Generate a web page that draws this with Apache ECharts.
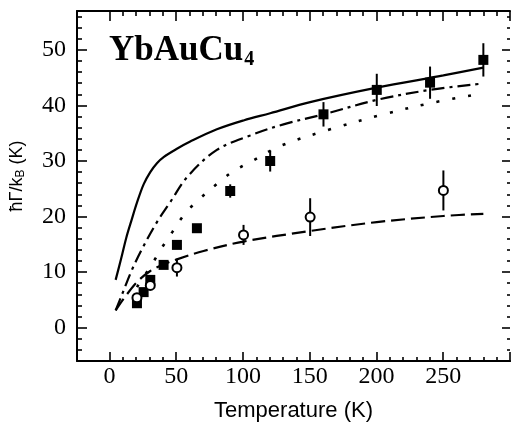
<!DOCTYPE html>
<html><head><meta charset="utf-8">
<script src="https://cdn.jsdelivr.net/npm/echarts@6/dist/echarts.min.js"></script>
<style>html,body{margin:0;padding:0;background:#fff}#c{width:511px;height:427px}</style>
</head><body><div id="c"></div>
<script>
// ---- data ----
const solidT = [4, 8, 12, 16, 20, 25, 30, 35, 40, 50, 60, 80, 100, 120, 150, 200, 250, 280];
const solidV = [8.6, 12.3, 16.2, 19.4, 22.5, 25.8, 28.0, 29.6, 30.7, 32.2, 33.5, 35.7, 37.3, 38.6, 40.6, 43.2, 45.4, 46.8];

const dashDotT = [4, 9, 16.6, 25, 35, 45, 58, 80, 105, 130, 160, 200, 240, 278];
const dashDotV = [3.1, 6.1, 10.6, 14.7, 19.0, 22.6, 27.2, 32.0, 34.6, 36.6, 38.4, 41.0, 42.8, 43.9];

const dottedT = [20, 25, 32.7, 39, 46.5, 54, 62.6, 82.7, 92.6, 105, 127.6, 165, 205, 242, 280];
const dottedV = [7.3, 9.1, 12.0, 14.5, 17.2, 19.9, 22.2, 26.4, 28.2, 29.8, 32.7, 35.7, 38.4, 40.5, 42.2];

const dashedT = [4, 10, 20, 30, 40, 50, 70, 100, 150, 200, 250, 280];
const dashedV = [3.1, 5.2, 8.2, 10.2, 11.4, 12.3, 13.8, 15.5, 17.4, 19.0, 20.1, 20.5];

const squareT = [20, 25, 30, 40, 50, 65, 90, 120, 160, 200, 240, 280];
const squareV = [4.4, 6.4, 8.6, 11.3, 14.9, 17.9, 24.6, 30.0, 38.4, 42.8, 44.1, 48.2];
const squareErr = [0, 0, 0, 0, 0, 0, 1.2, 1.9, 2.2, 2.9, 2.9, 3.0];

const circleT = [20, 30, 50, 100, 150, 250];
const circleV = [5.4, 7.6, 10.8, 16.7, 19.9, 24.7];
const circleErr = [0.5, 0.8, 1.6, 1.8, 3.4, 3.6];

const xRange = [-25, 300];
const yRange = [-6, 57];
const titleMain = 'YbAuCu';
const titleSub = '4';
const xName = 'Temperature (K)';
// ---------------------------------------

const serif = '"Liberation Serif", "Times New Roman", serif';
const sans = '"Liberation Sans", Arial, sans-serif';
const pair = (xs, ys) => xs.map((x, i) => [x, ys[i]]);
const errData = (xs, ys, es) => xs.map((x, i) => [x, ys[i] - es[i], ys[i] + es[i]]);

const chart = echarts.init(document.getElementById('c'), null, {renderer: 'canvas'});

const gridLeft = 76, gridRight = 1, gridTop = 11, gridBottom = 65;
const plotW = 511 - gridLeft - gridRight;
const zeroPx = gridLeft + (0 - xRange[0]) / (xRange[1] - xRange[0]) * plotW;

const axisLineStyle = {color: '#000', width: 2};
const tickStyle = {color: '#000', width: 1.6};

function lineSeries(xs, ys, type, w) {
  return {
    type: 'line', data: pair(xs, ys), xAxisIndex: 0, yAxisIndex: 0,
    showSymbol: false, symbol: 'none', smooth: 0.35,
    lineStyle: {color: '#000', width: w || 2, type: type, cap: 'butt'}, z: 3, silent: true
  };
}
function errSeries(xs, ys, es) {
  return {
    type: 'custom', xAxisIndex: 0, yAxisIndex: 0, z: 4, silent: true,
    data: errData(xs, ys, es),
    renderItem: (params, api) => {
      const lo = api.coord([api.value(0), api.value(1)]);
      const hi = api.coord([api.value(0), api.value(2)]);
      return {type: 'line', shape: {x1: lo[0], y1: lo[1], x2: hi[0], y2: hi[1]},
              style: {stroke: '#000', lineWidth: 2}};
    }
  };
}

chart.setOption({
  animation: false,
  backgroundColor: '#fff',
  title: {
    left: 109, top: 32, padding: 0,
    text: '{a|' + titleMain + '}{b|' + titleSub + '}',
    textStyle: {rich: {
      a: {fontFamily: serif, fontWeight: 'bold', fontSize: 35, color: '#000'},
      b: {fontFamily: serif, fontWeight: 'bold', fontSize: 20, color: '#000', padding: [18, 0, 0, 1]}
    }}
  },
  grid: [
    {left: gridLeft, right: gridRight, top: gridTop, bottom: gridBottom},
    {left: zeroPx, right: gridRight, top: gridTop, bottom: gridBottom}
  ],
  xAxis: [
    {gridIndex: 0, type: 'value', min: xRange[0], max: xRange[1], position: 'bottom',
     axisLine: {show: true, onZero: false, lineStyle: axisLineStyle}, axisTick: {show: false},
     axisLabel: {show: false}, splitLine: {show: false},
     name: xName, nameLocation: 'middle', nameGap: 39,
     nameTextStyle: {fontFamily: sans, fontSize: 22, color: '#000'}},
    {gridIndex: 0, type: 'value', min: xRange[0], max: xRange[1], position: 'top',
     axisLine: {show: true, onZero: false, lineStyle: axisLineStyle}, axisTick: {show: false},
     axisLabel: {show: false}, splitLine: {show: false}},
    {gridIndex: 1, type: 'value', min: 0, max: xRange[1], interval: 50, position: 'bottom',
     axisLine: {show: false, onZero: false}, splitLine: {show: false},
     axisTick: {show: true, inside: true, length: 10, lineStyle: tickStyle},
     minorTick: {show: true, splitNumber: 5, length: 5, lineStyle: tickStyle},
     axisLabel: {show: true, margin: 3, fontFamily: serif, fontSize: 24, color: '#000', showMaxLabel: false}},
    {gridIndex: 1, type: 'value', min: 0, max: xRange[1], interval: 50, position: 'top',
     axisLine: {show: false, onZero: false}, splitLine: {show: false},
     axisTick: {show: true, inside: true, length: 10, lineStyle: tickStyle},
     minorTick: {show: true, splitNumber: 5, length: 5, lineStyle: tickStyle},
     axisLabel: {show: false}}
  ],
  yAxis: [
    {gridIndex: 0, type: 'value', min: yRange[0], max: yRange[1], position: 'left',
     axisLine: {show: true, onZero: false, lineStyle: axisLineStyle}, splitLine: {show: false},
     axisTick: {show: true, inside: true, length: 10, lineStyle: tickStyle},
     minorTick: {show: true, splitNumber: 5, length: 5, lineStyle: tickStyle},
     axisLabel: {show: true, margin: 11, fontFamily: serif, fontSize: 24, color: '#000',
                 showMinLabel: false, showMaxLabel: false},
     name: '{n|ħΓ/k}{s|B}{n| (K)}', nameLocation: 'middle', nameGap: 50,
     nameTextStyle: {padding: [0, 0, 0, 20], rich: {
       n: {fontFamily: sans, fontSize: 18, color: '#000'},
       s: {fontFamily: sans, fontSize: 12, color: '#000', padding: [8, 0, 0, 0]}
     }}},
    {gridIndex: 0, type: 'value', min: yRange[0], max: yRange[1], position: 'right',
     axisLine: {show: false, onZero: false}, splitLine: {show: false},
     axisTick: {show: true, inside: true, length: 8, lineStyle: tickStyle},
     minorTick: {show: true, splitNumber: 5, length: 3, lineStyle: tickStyle},
     axisLabel: {show: false}},
    {gridIndex: 1, type: 'value', min: yRange[0], max: yRange[1], show: false}
  ],
  series: [
    lineSeries(solidT, solidV, 'solid', 2.2),
    lineSeries(dashDotT, dashDotV, [13, 5, 3, 5], 2.2),
    lineSeries(dottedT, dottedV, [3, 13], 2.6),
    lineSeries(dashedT, dashedV, [14, 6], 2.2),
    errSeries(squareT, squareV, squareErr),
    errSeries(circleT, circleV, circleErr),
    {type: 'scatter', data: pair(squareT, squareV), xAxisIndex: 0, yAxisIndex: 0, z: 5,
     symbol: 'rect', symbolSize: 10, itemStyle: {color: '#000', opacity: 1}, silent: true},
    {type: 'scatter', data: pair(circleT, circleV), xAxisIndex: 0, yAxisIndex: 0, z: 5,
     symbol: 'circle', symbolSize: 9, itemStyle: {color: '#fff', borderColor: '#000', borderWidth: 2, opacity: 1}, silent: true}
  ]
});
</script>
</body></html>
